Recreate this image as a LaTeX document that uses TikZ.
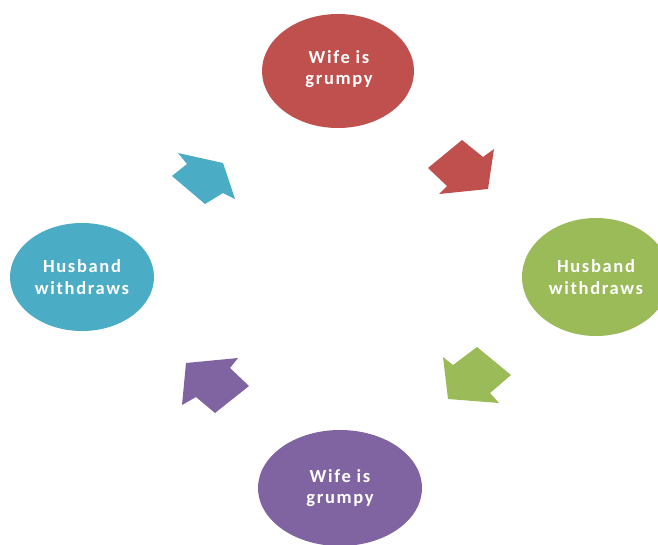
\documentclass[tikz,border=0pt]{standalone}
\usepackage{fontspec}
\setmainfont{Carlito}
\newfontfamily\lblfont[LetterSpace=9]{Carlito}
\usetikzlibrary{shapes.geometric}
\definecolor{cred}{HTML}{C0504D}
\definecolor{cgreen}{HTML}{9BBB59}
\definecolor{cpurple}{HTML}{8064A2}
\definecolor{ccyan}{HTML}{4BACC6}
\tikzset{
  bubble/.style={ellipse, inner sep=0pt, text=white, align=center,
    font=\lblfont\bfseries\fontsize{18.5}{21.5}\selectfont},
  blockarrow/.style={draw=none}
}
\begin{document}
\begin{tikzpicture}[x=1pt,y=-1pt]
\useasboundingbox (0,0) rectangle (658,544);
\fill[white] (0,0) rectangle (658,544);
\clip (0,0) rectangle (658,544);
\node[bubble, fill=cred, minimum width=152pt, minimum height=114pt] (top) at (338,71) {};
\node[bubble, fill=cgreen, minimum width=148pt, minimum height=118pt] (right) at (596,277) {};
\node[bubble, fill=cpurple, minimum width=164pt, minimum height=116pt] (bottom) at (340,488) {};
\node[bubble, fill=ccyan, minimum width=144pt, minimum height=108pt] (left) at (82,277) {};
\node[bubble] (toptext) at (339,69) {Wife is\\grumpy};
\node[bubble] (righttext) at (596,277) {Husband\\withdraws};
\node[bubble] (bottomtext) at (340,488) {Wife is\\grumpy};
\node[bubble] (lefttext) at (82,277) {Husband\\withdraws};
% block arrows
\fill[blockarrow, cred] (462,140) -- (483,157) -- (494,149) -- (488,189) -- (439,194) -- (447,186) -- (428,168) -- cycle;
\fill[blockarrow, cgreen] (477,347) -- (511,375) -- (490,393) -- (499,403) -- (448,399) -- (443,357) -- (453,365) -- cycle;
\fill[blockarrow, cpurple] (186,363) -- (238,358) -- (230,368) -- (249,386) -- (215,413) -- (196,397) -- (182,405) -- cycle;
\fill[blockarrow, ccyan] (178,153) -- (223,163) -- (235,199) -- (223,193) -- (205,204) -- (172,176) -- (187,164) -- cycle;
\end{tikzpicture}
\end{document}
